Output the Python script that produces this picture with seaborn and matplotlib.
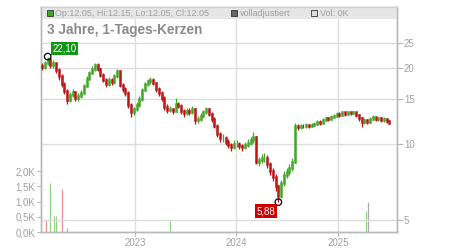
import numpy as np
import pandas as pd
import matplotlib
matplotlib.use("Agg")
import matplotlib.pyplot as plt
import seaborn as sns
from matplotlib.patches import Rectangle

# ---------------- data ----------------
start_date = "2022-02-01"
period_days = 10
first_open = 20.3
closes = [20.1, 20.8, 21.6, 20.5, 20.8, 19.6, 18.5, 17.2, 16.2, 14.9,
          15.6, 16.0, 15.2, 15.4, 15.9, 16.9, 18.1, 19.0, 19.7, 20.5,
          19.7, 18.7, 17.9, 17.2, 17.9, 17.5, 18.5, 19.3, 17.1, 16.4,
          15.9, 14.2, 13.3, 13.7, 14.2, 15.0, 16.3, 17.2, 17.7, 17.9,
          17.4, 16.4, 15.9, 15.2, 14.0, 13.6, 13.7, 13.5, 14.4, 14.1,
          13.5, 13.2, 13.5, 13.3, 13.7, 12.4, 12.5, 12.9, 13.3, 13.7,
          13.1, 12.5, 11.8, 10.9, 10.5, 10.5, 10.2, 9.9, 9.7, 10.0,
          10.0, 9.8, 9.7, 9.9, 10.1, 10.3, 10.6, 8.5, 8.6, 8.8,
          8.8, 8.3, 7.8, 7.4, 6.8, 6.2, 7.0, 7.5, 7.7, 8.0,
          8.5, 11.8, 11.6, 11.8, 11.7, 11.9, 11.7, 11.9, 12.0, 12.2,
          12.1, 12.4, 12.6, 12.5, 12.8, 12.9, 13.1, 13.0, 13.3, 13.1,
          13.3, 13.2, 13.3, 13.0, 12.6, 12.2, 12.4, 12.2, 12.5, 12.7,
          12.5, 12.6, 12.4, 12.5, 12.3, 12.05]
highs = [20.9, 21.3, 22.1, 21.8, 21.4, 21.0, 19.9, 18.8, 17.5, 16.4,
         16.0, 16.5, 16.2, 15.9, 16.3, 17.3, 18.5, 19.4, 20.2, 20.9,
         20.8, 19.9, 19.0, 18.2, 18.3, 18.2, 18.9, 19.7, 19.5, 17.4,
         16.7, 16.1, 14.5, 14.0, 14.6, 15.4, 16.6, 17.5, 18.1, 18.4,
         18.2, 17.6, 16.7, 16.2, 15.4, 14.3, 14.1, 13.9, 15.2, 14.6,
         14.3, 13.7, 13.9, 13.8, 14.1, 13.9, 12.9, 13.2, 13.6, 14.0,
         13.9, 13.3, 12.7, 12.0, 11.1, 10.9, 10.7, 10.4, 10.1, 10.3,
         10.3, 10.2, 10.0, 10.2, 10.4, 10.6, 11.1, 10.7, 8.9, 9.1,
         9.2, 9.0, 8.5, 8.0, 7.6, 6.9, 7.2, 7.8, 8.0, 8.3,
         8.8, 12.1, 12.0, 12.0, 12.0, 12.1, 12.0, 12.1, 12.2, 12.4,
         12.4, 12.6, 12.8, 12.8, 13.0, 13.1, 13.3, 13.3, 13.5, 13.4,
         13.5, 13.4, 13.5, 13.4, 13.1, 12.7, 12.6, 12.5, 12.7, 13.0,
         12.8, 12.8, 12.7, 12.7, 12.6, 12.4]
lows = [19.6, 19.8, 20.4, 20.0, 19.9, 19.0, 17.9, 16.8, 15.7, 14.3,
        14.6, 15.3, 14.7, 14.8, 15.1, 15.7, 16.7, 17.8, 18.8, 19.4,
        19.3, 18.3, 17.5, 16.8, 16.9, 17.1, 17.3, 18.2, 16.8, 16.0,
        15.4, 13.9, 12.8, 13.0, 13.5, 14.0, 14.8, 16.1, 16.9, 17.3,
        17.0, 16.0, 15.5, 14.8, 13.6, 13.2, 13.3, 13.1, 13.4, 13.8,
        13.1, 12.8, 13.0, 13.0, 13.1, 12.0, 12.1, 12.3, 12.7, 13.1,
        12.9, 12.2, 11.5, 10.6, 10.2, 10.2, 9.9, 9.6, 9.4, 9.5,
        9.7, 9.5, 9.4, 9.5, 9.7, 9.9, 10.1, 8.3, 8.2, 8.4,
        8.5, 8.0, 7.5, 7.1, 6.5, 5.88, 6.1, 6.8, 7.3, 7.5,
        7.8, 8.4, 11.3, 11.4, 11.5, 11.5, 11.5, 11.6, 11.7, 11.9,
        11.9, 12.0, 12.3, 12.3, 12.4, 12.7, 12.8, 12.8, 12.9, 12.9,
        13.0, 13.0, 13.1, 12.8, 12.3, 11.6, 12.0, 12.0, 12.1, 12.4,
        12.3, 12.3, 12.2, 12.2, 12.1, 12.0]

hi_label = "22,10"
lo_label = "5,88"

vol_dates = ["2022-02-15", "2022-03-01", "2022-03-16", "2022-03-23", "2022-04-13",
             "2022-05-01", "2023-05-07", "2024-11-29", "2025-04-11", "2025-04-18"]
vol_values = [400, 1600, 520, 520, 1420, 140, 370, 30, 690, 1000]
vol_kind = ["down", "up", "up", "up", "down", "up", "up", "flat", "up", "flat"]

price_ticks = [5, 10, 15, 20, 25]
price_tick_labels = ["5", "10", "15", "20", "25"]
vol_ticks = [0, 500, 1000, 1500, 2000]
vol_tick_labels = ["0,0K", "0,5K", "1,0K", "1,5K", "2,0K"]
year_ticks = ["2023-01-01", "2024-01-01", "2025-01-01"]
year_labels = ["2023", "2024", "2025"]

title_text = "3 Jahre, 1-Tages-Kerzen"
header_items = [("Op:12.05, Hi:12.15, Lo:12.05, Cl:12.05", "#3daa22"),
                ("volladjustiert", "#666666"),
                ("Vol: 0K", "#dddddd")]

# ---------------- style ----------------
sns.set_theme(style="white")
plt.rcParams["font.family"] = ["Liberation Sans", "DejaVu Sans"]

GREEN = "#43a82a"
RED = "#b81818"
VOL_COL = {"up": "#8fd47f", "down": "#ee8f99", "flat": "#aaaaaa"}
GRID = "#dcdcdc"
TXT = "#a0a0a0"
SPINE = "#b8b8b8"

dates = pd.date_range(start_date, periods=len(closes), freq=f"{period_days}D")
df = pd.DataFrame({"date": dates, "close": closes, "high": highs, "low": lows})
df["open"] = df["close"].shift(1).fillna(first_open)
df["lo"] = df[["open", "close"]].min(axis=1)
df["hi"] = df[["open", "close"]].max(axis=1)
df["col"] = np.where(df["close"] >= df["open"], GREEN, RED)

vdf = pd.DataFrame({"date": pd.to_datetime(vol_dates), "vol": vol_values, "kind": vol_kind})

fig = plt.figure(figsize=(4.5, 2.5), dpi=100, facecolor="white")
ax = fig.add_axes([41 / 450, 18 / 250, 356 / 450, 225 / 250])
axp = ax.twinx()

xmin, xmax = pd.Timestamp("2022-01-28"), pd.Timestamp("2025-08-01")
ax.set_xlim(xmin, xmax)
ax.set_ylim(0, 7380)
axp.set_yscale("log")
axp.set_ylim(4.48, 34.7)

# volume bars
ax.vlines(vdf["date"], 0, vdf["vol"], colors=[VOL_COL[k] for k in vdf["kind"]],
          linewidth=0.9, zorder=2)

# candles: wicks + bodies
axp.vlines(df["date"], df["low"], df["high"], colors=df["col"], linewidth=0.9, zorder=3)
axp.vlines(df["date"], df["lo"], df["hi"], colors=df["col"], linewidth=1.8,
           capstyle="projecting", zorder=3)

# extreme markers
i_hi = int(df["high"].idxmax())
i_lo = int(df["low"].idxmin())
mk = pd.DataFrame({"date": [dates[i_hi], dates[i_lo]],
                   "price": [df["high"][i_hi], df["low"][i_lo]]})
sns.scatterplot(data=mk, x="date", y="price", ax=axp, marker="o", s=22,
                facecolors="none", edgecolor="black", linewidth=0.9, zorder=5)
axp.annotate(hi_label, xy=(dates[i_hi], df["high"][i_hi]), xytext=(17, 8),
             textcoords="offset pixels", ha="center", va="center", color="white",
             fontsize=7, zorder=6,
             bbox=dict(boxstyle="square,pad=0.18", fc="#139613", ec="none"))
axp.annotate(lo_label, xy=(dates[i_lo], df["low"][i_lo]), xytext=(-12, -9),
             textcoords="offset pixels", ha="center", va="center", color="white",
             fontsize=7, zorder=6,
             bbox=dict(boxstyle="square,pad=0.18", fc="#cc0000", ec="none"))

# grids & ticks
ax.set_xticks(pd.to_datetime(year_ticks))
ax.set_xticklabels(year_labels)
ax.grid(axis="x", color=GRID, linewidth=1.0)
ax.grid(axis="y", visible=False)
axp.set_yticks(price_ticks)
axp.set_yticklabels(price_tick_labels)
axp.yaxis.set_minor_locator(matplotlib.ticker.NullLocator())
axp.grid(axis="y", which="major", color=GRID, linewidth=1.0, zorder=1)
axp.grid(axis="x", visible=False)
axp.set_axisbelow(True)

ax.set_yticks(vol_ticks)
ax.set_yticklabels(vol_tick_labels)
ax.tick_params(axis="y", left=True, length=3, width=0.8, color=SPINE, labelsize=7,
               labelcolor=TXT, pad=1)
ax.tick_params(axis="x", bottom=True, length=3, width=0.8, color=SPINE, labelsize=7,
               labelcolor=TXT, pad=1)
axp.tick_params(axis="y", right=True, length=4, width=0.8, color=SPINE, labelsize=7,
                labelcolor=TXT, pad=1)
for a in (ax, axp):
    a.set_xlabel("")
    a.set_ylabel("")
    for s in a.spines.values():
        s.set_color(SPINE)
        s.set_linewidth(1.0)
axp.spines["top"].set_color("#d0d0d0")

# header band
axp.add_patch(Rectangle((0, 0.9467), 1, 0.0533, transform=axp.transAxes,
                        fc="#e6e6e6", ec="none", zorder=0.5, clip_on=False))
sq_x = [0.024, 0.5435, 0.768]
tx_x = [0.040, 0.558, 0.783]
for (label, col), sx, tx in zip(header_items, sq_x, tx_x):
    axp.plot([sx], [0.973], marker="s", ms=4.3, mfc=col, mec="#333333", mew=0.6,
             transform=axp.transAxes, clip_on=False, zorder=7)
    axp.text(tx, 0.973, label, transform=axp.transAxes, fontsize=6.5, color=TXT,
             ha="left", va="center", zorder=7)

axp.text(0.017, 0.898, title_text, transform=axp.transAxes, fontsize=9.8,
         fontweight="bold", color="#8a8a8a", ha="left", va="center", zorder=7)

fig.savefig("out.png", dpi=100, facecolor="white")
